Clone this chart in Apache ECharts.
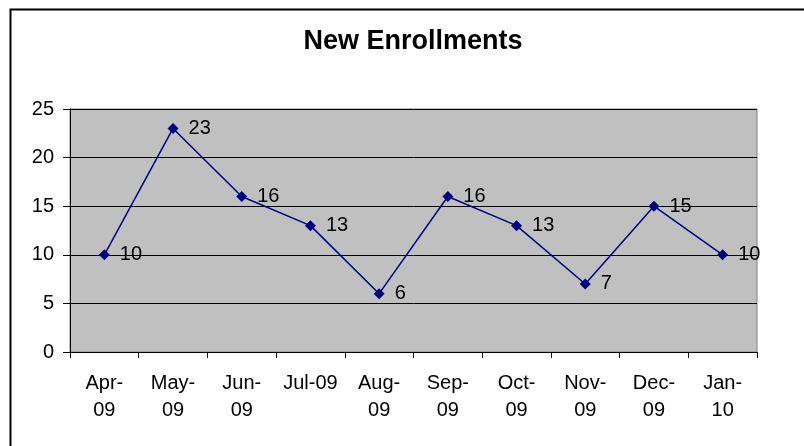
<!DOCTYPE html>
<html><head><meta charset="utf-8">
<script src="https://cdn.jsdelivr.net/npm/echarts@6/dist/echarts.min.js"></script>
<style>html,body{margin:0;padding:0;background:#fff}#c{width:804px;height:446px}</style>
</head><body><div id="c"></div>
<script>
const categories = ['Apr-\n09','May-\n09','Jun-\n09','Jul-09','Aug-\n09','Sep-\n09','Oct-\n09','Nov-\n09','Dec-\n09','Jan-\n10'];
const enrollments = [10, 23, 16, 13, 6, 16, 13, 7, 15, 10];
const yTicks = {min: 0, max: 25, interval: 5};
const titleText = 'New Enrollments';

const chart = echarts.init(document.getElementById('c'), null, {renderer: 'canvas'});
const FONT = '"Liberation Sans", Arial, sans-serif';
chart.setOption({
  animation: false,
  backgroundColor: '#fff',
  graphic: [{
    type: 'rect', left: 8, top: 7, z: 100, silent: true,
    shape: {width: 810, height: 460},
    style: {fill: 'none', stroke: '#000', lineWidth: 2}
  }],
  title: {
    text: titleText, left: 408, top: 23, textAlign: 'center',
    textStyle: {fontFamily: FONT, fontSize: 27, fontWeight: 'bold', color: '#000'}
  },
  grid: {left: 70, right: 47, top: 109, bottom: 94, show: true,
         backgroundColor: '#C0C0C0', borderColor: '#808080', borderWidth: 1},
  xAxis: {
    type: 'category', data: categories, boundaryGap: true,
    axisLine: {lineStyle: {color: '#000', width: 1}},
    axisTick: {show: true, length: 6, alignWithLabel: false, lineStyle: {color: '#000'}},
    axisLabel: {color: '#000', fontFamily: FONT, fontSize: 20, lineHeight: 27, margin: 18, interval: 0}
  },
  yAxis: {
    type: 'value', min: yTicks.min, max: yTicks.max, interval: yTicks.interval,
    axisLine: {show: true, lineStyle: {color: '#000', width: 1}},
    axisTick: {show: true, length: 7, lineStyle: {color: '#000'}},
    splitLine: {show: true, lineStyle: {color: '#000', width: 1}},
    axisLabel: {color: '#000', fontFamily: FONT, fontSize: 20, margin: 16}
  },
  series: [{
    type: 'line', data: enrollments,
    symbol: 'diamond', symbolSize: 11,
    lineStyle: {color: '#000080', width: 1.5},
    itemStyle: {color: '#000080'},
    label: {show: true, position: 'right', distance: 10, color: '#000',
            fontFamily: FONT, fontSize: 20}
  }]
});
</script></body></html>
